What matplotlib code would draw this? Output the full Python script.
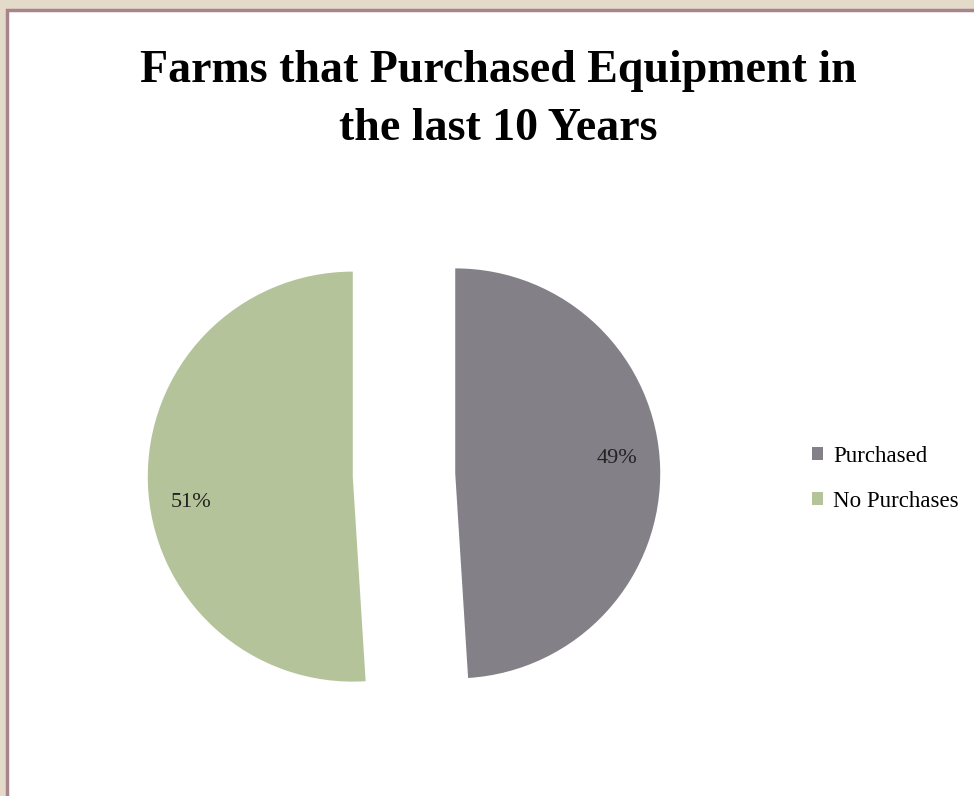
import matplotlib.pyplot as plt
from matplotlib.patches import Rectangle, Patch

# Survey result: share of farms buying equipment over the last decade
categories = ['Purchased', 'No Purchases']
shares = [49, 51]
colors = ['#838087', '#B5C39A']

W, H = 974, 796
fig = plt.figure(figsize=(W / 100, H / 100), dpi=100)
fig.patch.set_facecolor('#E3DACA')

# white slide panel with a thin mauve edge
panel = Rectangle((7 / W, -0.02), 1, 1.02 - 10 / H, transform=fig.transFigure,
                  facecolor='white', edgecolor='#A8848C', linewidth=2.5, zorder=-5)
fig.patches.append(panel)

fig.text(498 / W, 1 - 100 / H, 'Farms that Purchased Equipment in\nthe last 10 Years',
         ha='center', va='center', fontsize=33, fontweight='bold',
         family='Liberation Serif', linespacing=1.47)

# pie axes: radius 205 px, centred at (404, 475) px
r_px = 205
half = 320
cx, cy = 404, 475
ax = fig.add_axes([(cx - half) / W, 1 - (cy + half) / H, 2 * half / W, 2 * half / H])
ax.set_zorder(2)
ax.patch.set_visible(False)
wedges, texts, autotexts = ax.pie(
    shares, colors=colors, startangle=90, counterclock=False,
    explode=[0.25, 0.25], autopct='%d%%', pctdistance=0.79,
    textprops={'family': 'Liberation Serif', 'fontsize': 16, 'color': '#222222'},
)
# nudge the percentage labels the way the original layout places them
for t, dy in zip(autotexts, [10 / r_px, -21 / r_px]):
    x, y = t.get_position()
    t.set_position((x, y + dy))
ax.set_xlim(-half / r_px, half / r_px)
ax.set_ylim(-half / r_px, half / r_px)
ax.set_aspect('equal')

handles = [Patch(facecolor=c, edgecolor='none') for c in colors]
fig.legend(handles, categories, loc='center left',
           bbox_to_anchor=(791 / W, 1 - 479 / H), frameon=False,
           prop={'family': 'Liberation Serif', 'size': 16.5},
           handlelength=0.5, handleheight=0.5, handletextpad=0.45,
           labelspacing=1.05)

fig.savefig('out.png', dpi=100, facecolor=fig.get_facecolor())
